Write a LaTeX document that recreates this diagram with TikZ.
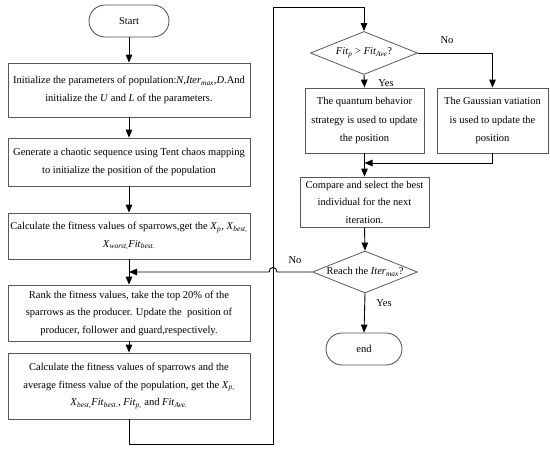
\documentclass[tikz,border=0pt]{standalone}
\usepackage{fontspec}
\setmainfont{Liberation Serif}
\usetikzlibrary{arrows.meta,shapes.geometric}
\newcommand{\mysub}[1]{\textsubscript{\itshape #1}}
\begin{document}
\begin{tikzpicture}[x=1pt,y=-1pt,
  txt/.style={font=\fontsize{10.5}{17.5}\selectfont},
  procbox/.style={txt,draw=black!65,line width=0.8pt,rectangle,align=center,inner sep=1pt},
  termbox/.style={txt,draw=black!70,line width=0.8pt,rectangle,rounded corners=16pt,align=center},
  decbox/.style={draw=black!65,line width=0.8pt,diamond,inner sep=0pt},
  arr/.style={line width=0.9pt,-{Triangle[length=8pt,width=6.5pt]}},
  ln/.style={line width=0.9pt},
  lbl/.style={txt,inner sep=0pt}]
\useasboundingbox (0,0) rectangle (550,450);
\fill[white] (0,0) rectangle (550,450);

\node[termbox,minimum width=80pt,minimum height=32pt] (start) at (129,21) {Start};
\node[procbox,minimum width=242pt,minimum height=54pt] (b1) at (129,90)
  {Initialize the parameters of population:\textit{N},\textit{Iter}\mysub{max},\textit{D}.And\\ initialize the \textit{U} and \textit{L} of the parameters.};
\node[procbox,minimum width=242pt,minimum height=48pt] (b2) at (129,162)
  {Generate a chaotic sequence using Tent chaos mapping\\ to initialize the position of the population};
\node[procbox,minimum width=242pt,minimum height=46pt] (b3) at (129,236)
  {Calculate the fitness values of sparrows,get the \textit{X}\mysub{p}, \textit{X}\mysub{best,}\\ \textit{X}\mysub{worst,}\textit{Fit}\mysub{best.}};
\node[procbox,minimum width=242pt,minimum height=56pt] (b4) at (129,313)
  {Rank the fitness values, take the top 20\% of the\\ sparrows as the producer. Update the\ \ position of\\ producer,\ follower and guard,respectively.};
\node[procbox,minimum width=242pt,minimum height=66pt] (b5) at (129,386)
  {Calculate the fitness values of sparrows and the\\ average fitness value of the population, get the \textit{X}\mysub{p,}\\ \textit{X}\mysub{best,}\textit{Fit}\mysub{best.}, \textit{Fit}\mysub{p,} and \textit{Fit}\mysub{Ave.}};

\node[decbox,minimum width=107pt,minimum height=43pt] (d1) at (364,53) {};
\node[txt,inner sep=0pt] (d1t) at (d1.center) {\textit{Fit}\mysub{p} > \textit{Fit}\mysub{Ave}?};
\node[procbox,minimum width=119pt,minimum height=65pt,font=\fontsize{10.5}{18.5}\selectfont] (b6) at (364.5,120.5)
  {The quantum behavior\\ strategy is used to update\\ the position};
\node[procbox,minimum width=111pt,minimum height=65pt,font=\fontsize{10.5}{18.5}\selectfont] (b7) at (492.5,120.5)
  {The Gaussian vatiation\\ is used to update the\\ position};
\node[procbox,minimum width=129pt,minimum height=50pt] (b8) at (364.5,202)
  {Compare and select the best\\ individual for the next\\ iteration.};
\node[decbox,minimum width=105pt,minimum height=42pt] (d2) at (365,272) {};
\node[txt,inner sep=0pt] (d2t) at (d2.center) {Reach the \textit{Iter}\mysub{max}?};
\node[termbox,minimum width=76pt,minimum height=32pt] (end) at (364,349) {end};

\node[lbl] (no1) at (447,40) {No};
\node[lbl] (yes1) at (386,83) {Yes};
\node[lbl] (no2) at (295,260) {No};
\node[lbl] (yes2) at (384,303) {Yes};

\draw[arr] (start) -- (b1);
\draw[arr] (b1) -- (b2);
\draw[arr] (b2) -- (b3);
\draw[arr] (b3) -- (b4);
\draw[arr] (b4) -- (b5);

\coordinate (l1) at (129,444);
\coordinate (l2) at (273,444);
\coordinate (l3) at (273,7);
\coordinate (l4) at (364,7);
\draw[arr] (b5.south) -- (l1) -- (l2) -- (l3) -- (l4) -- (d1.north);

\coordinate (n1) at (492.5,53);
\draw[arr] (d1.east) -- (n1) -- (b7.north);
\draw[arr] (d1.south) -- (b6.north);
\coordinate (m1) at (492.5,163);
\coordinate (m2) at (364.5,163);
\draw[ln] (b7.south) -- (m1);
\draw[arr] (m1) -- (m2);
\draw[arr] (b6.south) -- (b8.north);
\draw[arr] (b8.south) -- (d2.north);
\draw[arr] (d2.south) -- (end.north);

\coordinate (j1) at (277,272);
\coordinate (j2) at (269,272);
\coordinate (t1) at (129,272);
\draw[arr] (d2.west) -- (j1) .. controls (277,266) and (269,266) .. (j2) -- (t1);
\end{tikzpicture}
\end{document}
